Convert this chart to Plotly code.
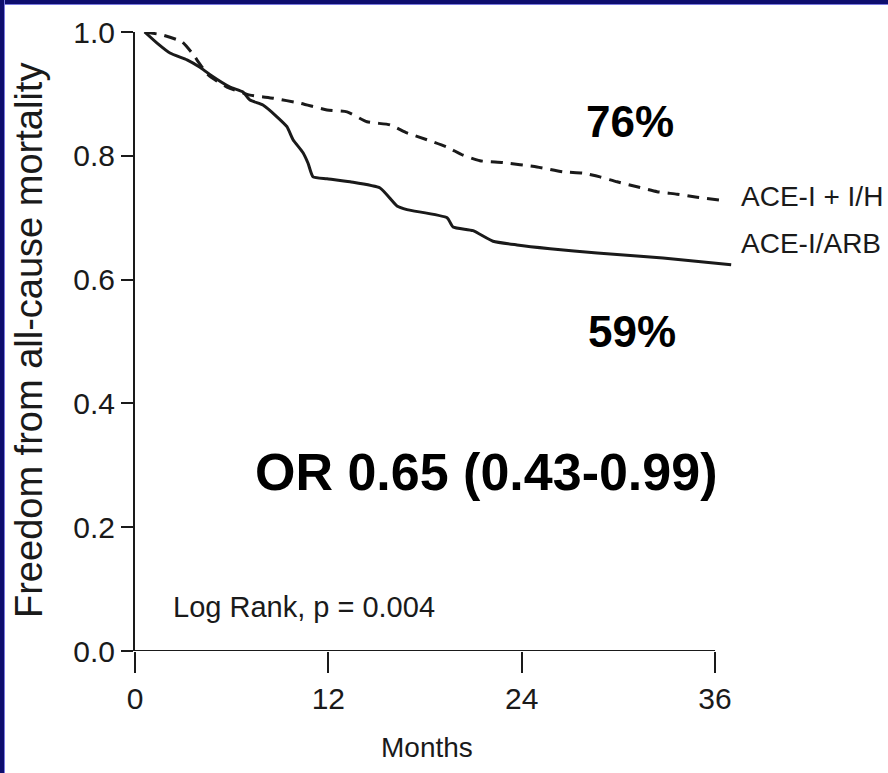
import plotly.graph_objects as go

# ---- data ----
months_arb = [0.6, 1.37, 2.17, 3.23, 4.03, 4.66, 5.90, 6.70, 7.14, 7.94, 8.81, 9.43, 9.81, 10.43,
              10.74, 11.05, 11.92, 13.35, 15.21, 16.26, 16.88, 19.37, 19.74, 20.98, 22.22, 23.71,
              25.76, 28.68, 32.77, 37.0]
surv_arb = [1.0, 0.982, 0.966, 0.955, 0.943, 0.931, 0.911, 0.903, 0.890, 0.882, 0.863, 0.847, 0.826,
            0.805, 0.788, 0.766, 0.763, 0.758, 0.748, 0.719, 0.713, 0.700, 0.685, 0.679, 0.662, 0.656,
            0.650, 0.643, 0.635, 0.624]

months_ih = [0.6, 1.74, 2.92, 3.54, 4.53, 5.71, 7.14, 8.57, 10.24, 11.92, 13.16, 14.40, 15.83, 16.88,
             18.12, 19.37, 20.36, 21.41, 22.84, 24.95, 26.57, 27.81, 28.86, 29.92, 31.16, 32.40,
             33.64, 34.88, 36.4]
surv_ih = [1.0, 0.995, 0.984, 0.966, 0.931, 0.911, 0.898, 0.893, 0.885, 0.874, 0.871, 0.855, 0.850,
           0.837, 0.826, 0.814, 0.801, 0.792, 0.789, 0.782, 0.774, 0.772, 0.766, 0.758, 0.750, 0.742,
           0.738, 0.733, 0.728]

x_ticks = [0, 12, 24, 36]
y_ticks = [0.0, 0.2, 0.4, 0.6, 0.8, 1.0]
y_ticklabels = ["0.0", "0.2", "0.4", "0.6", "0.8", "1.0"]

series_labels = ["ACE-I + I/H", "ACE-I/ARB"]
pct_labels = ["76%", "59%"]
or_text = "OR 0.65 (0.43-0.99)"
logrank_text = "Log Rank, p = 0.004"
x_title = "Months"
y_title = "Freedom from all-cause mortality"

# ---- layout geometry ----
W, H = 888, 773
L, R, T, B = 135, 152, 32, 122
PW, PH = W - L - R, H - T - B


def px2x(px):
    return (px - L) / PW


def py2y(py):
    return (H - B - py) / PH


REG = "Liberation Sans, Arial, Helvetica, sans-serif"
INK = "#1a1a1a"

fig = go.Figure()
fig.add_trace(go.Scatter(x=months_ih, y=surv_ih, mode="lines", line_shape="spline",
                         line=dict(color=INK, width=3, dash="12px,8px", smoothing=0.5),
                         showlegend=False, hoverinfo="skip"))
fig.add_trace(go.Scatter(x=months_arb, y=surv_arb, mode="lines", line_shape="spline",
                         line=dict(color=INK, width=3, smoothing=0.5),
                         showlegend=False, hoverinfo="skip"))

annotations = [
    dict(text=series_labels[0], x=px2x(739), y=py2y(196), xanchor="left", yanchor="middle",
         font=dict(family=REG, size=28, color=INK)),
    dict(text=series_labels[1], x=px2x(739), y=py2y(243), xanchor="left", yanchor="middle",
         font=dict(family=REG, size=28, color=INK)),
    dict(text="<b>%s</b>" % pct_labels[0], x=px2x(630), y=py2y(121), xanchor="center", yanchor="middle",
         font=dict(family=REG, size=44, color="#000")),
    dict(text="<b>%s</b>" % pct_labels[1], x=px2x(632), y=py2y(332), xanchor="center", yanchor="middle",
         font=dict(family=REG, size=44, color="#000")),
    dict(text="<b>%s</b>" % or_text, x=px2x(486), y=py2y(472), xanchor="center", yanchor="middle",
         font=dict(family=REG, size=52, color="#000")),
    dict(text=logrank_text, x=px2x(171), y=py2y(607), xanchor="left", yanchor="middle",
         font=dict(family=REG, size=29, color=INK)),
    dict(text=x_title, x=px2x(427), y=py2y(747), xanchor="center", yanchor="middle",
         font=dict(family=REG, size=28, color=INK)),
    dict(text=y_title, x=px2x(29), y=py2y(341), xanchor="center", yanchor="middle", textangle=-90,
         font=dict(family=REG, size=38, color=INK)),
]
for a in annotations:
    a.update(xref="paper", yref="paper", showarrow=False)

shapes = [
    # x-axis line from 0 to 36 months
    dict(type="line", xref="x", yref="y", x0=0, x1=36, y0=0, y1=0,
         line=dict(color=INK, width=2)),
    # slide frame (top and left)
    dict(type="rect", xref="paper", yref="paper", x0=px2x(0), x1=px2x(W), y0=py2y(5), y1=py2y(0),
         fillcolor="#7a7ae0", line=dict(width=0), layer="above"),
    dict(type="rect", xref="paper", yref="paper", x0=px2x(0), x1=px2x(W), y0=py2y(4), y1=py2y(0),
         fillcolor="#0e0e6e", line=dict(width=0), layer="above"),
    dict(type="rect", xref="paper", yref="paper", x0=px2x(0), x1=px2x(5), y0=py2y(H), y1=py2y(0),
         fillcolor="#7a7ae0", line=dict(width=0), layer="above"),
    dict(type="rect", xref="paper", yref="paper", x0=px2x(0), x1=px2x(4), y0=py2y(H), y1=py2y(0),
         fillcolor="#0e0e6e", line=dict(width=0), layer="above"),
]

fig.update_layout(
    width=W, height=H,
    margin=dict(l=L, r=R, t=T, b=B, pad=0),
    paper_bgcolor="white", plot_bgcolor="white",
    annotations=annotations, shapes=shapes,
    xaxis=dict(range=[0, 37.3], tickvals=x_ticks, ticks="outside", ticklen=21, tickwidth=2,
               tickcolor=INK, showline=False, zeroline=False, showgrid=False,
               tickfont=dict(family=REG, size=30, color=INK)),
    yaxis=dict(range=[0, 1], tickvals=y_ticks, ticktext=y_ticklabels, ticks="outside", ticklen=12,
               tickwidth=2, tickcolor=INK, showline=True, linewidth=2, linecolor=INK,
               zeroline=False, showgrid=False,
               tickfont=dict(family=REG, size=30, color=INK)),
)

fig.write_html("out.html", config={"displayModeBar": False},
               post_script="document.body.style.margin='0';document.body.style.overflow='hidden';")
